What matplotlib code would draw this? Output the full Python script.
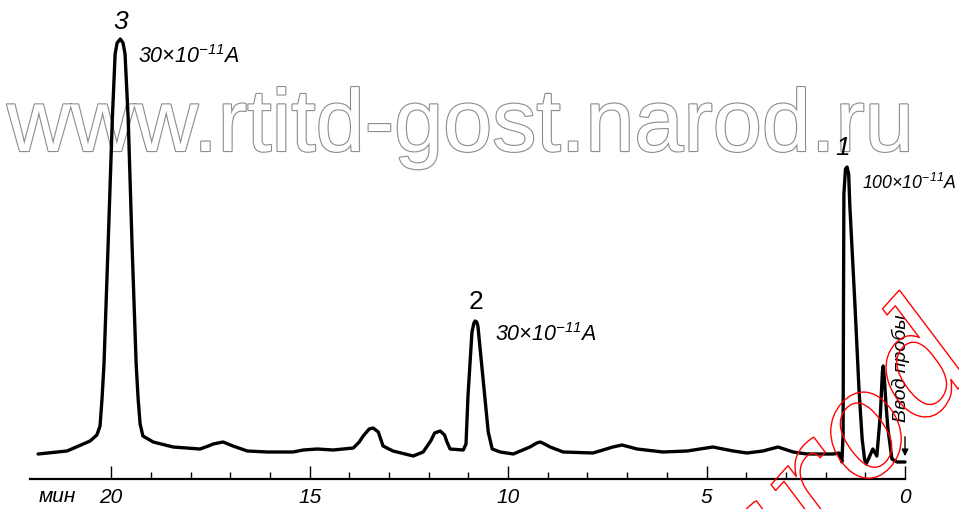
import matplotlib
matplotlib.use("Agg")
import matplotlib.pyplot as plt
from matplotlib import patheffects as pe
from matplotlib.ticker import FixedLocator

plt.rcParams["mathtext.fontset"] = "custom"
plt.rcParams["mathtext.rm"] = "Liberation Sans:italic"
plt.rcParams["mathtext.it"] = "Liberation Sans:italic"
plt.rcParams["mathtext.sf"] = "Liberation Sans:italic"

# ---- data (time in min, detector signal in arbitrary units) ----
time_min = [21.84, 21.11, 20.53, 20.36, 20.28, 20.23, 20.18, 20.08, 19.97, 19.90, 19.85,
            19.77, 19.70, 19.65, 19.57, 19.47, 19.37, 19.32, 19.27, 19.20, 18.94, 18.44,
            17.76, 17.55, 17.43, 17.18, 16.93, 16.57, 16.07, 15.42, 15.16, 14.81, 14.41,
            13.90, 13.75, 13.65, 13.50, 13.40, 13.27, 13.15, 12.90, 12.39, 12.14, 11.95,
            11.85, 11.71, 11.60, 11.54, 11.46, 11.13, 11.06, 11.01, 10.91, 10.86, 10.83,
            10.79, 10.76, 10.63, 10.50, 10.40, 10.20, 9.87, 9.45, 9.28, 9.19, 9.08, 8.94,
            8.61, 7.86, 7.36, 7.13, 6.75, 6.10, 5.49, 4.84, 4.33, 3.98, 3.58, 3.20, 2.82,
            2.47, 1.81, 1.66, 1.62, 1.59, 1.56, 1.55, 1.54, 1.50, 1.46, 1.42, 1.39, 1.26,
            1.16, 1.08, 1.02, 0.98, 0.90, 0.81, 0.71, 0.62, 0.57, 0.55, 0.52, 0.48, 0.43,
            0.33, 0.20, 0.05, 0.00]
signal = [0, 3, 13, 19, 28, 55, 90, 205, 335, 400, 411,
          415, 411, 400, 335, 205, 90, 55, 30, 18, 12, 7,
          5, 8, 10, 12, 8, 3, 2, 2, 4, 5, 4,
          6, 12, 18, 25, 26, 22, 8, 3, -2, 2, 13,
          21, 23, 19, 12, 5, 4, 10, 58, 122, 131, 133,
          132, 128, 75, 22, 5, 2, 0, 7, 11, 12, 10, 7,
          2, 1, 7, 9, 5, 2, 3, 7, 3, 1, 3, 7, 2,
          0, 0, 1, -4, -8, 20, 150, 260, 285, 287, 280, 248, 148,
          65, 15, -5, -10, -3, 5, -2, 40, 82, 88, 75, 50, 25,
          -5, -8, -8, -8]

major_ticks = [20, 15, 10, 5, 0]
major_labels = ["20", "15", "10", "5", "0"]
minor_ticks = [1, 2, 3, 4, 6, 7, 8, 9, 11, 12, 13, 14, 16, 17, 18, 19]

peak_numbers = ["1", "2", "3"]
peak_times = [1.56, 10.81, 19.77]
peak_label_levels = [307, 153, 433]
peak_italic = [True, False, True]
sens_labels = [r"100$\times$10$^{-11}$A", r"30$\times$10$^{-11}$A", r"30$\times$10$^{-11}$A"]
sens_times = [1.08, 10.33, 19.32]
sens_levels = [272, 120, 398]
sens_sizes = [12.8, 15.5, 15.5]

fig = plt.figure(figsize=(9.59, 5.10), dpi=100)
ax = fig.add_axes([0, 0, 1, 1])
ax.set_xlim(22.80, -1.36)
ax.set_ylim(-55, 455)

# watermark (gray outlined)
ax.text(7 / 959, (510 - 152) / 510, "www.rtitd-gost.narod.ru", transform=fig.transFigure,
        fontsize=63.5, family="Liberation Sans", color="white", ha="left", va="baseline",
        path_effects=[pe.withStroke(linewidth=1.6, foreground="#8c8c8c")], zorder=1)

ax.plot(time_min, signal, color="black", lw=2.4, solid_joinstyle="round",
        solid_capstyle="round", zorder=3)

for s in ["top", "right", "left"]:
    ax.spines[s].set_visible(False)
ax.spines["bottom"].set_position(("data", -25))
ax.spines["bottom"].set_bounds(0, 22.04)
ax.spines["bottom"].set_linewidth(1.6)
ax.set_yticks([])
ax.xaxis.set_major_locator(FixedLocator(major_ticks))
ax.set_xticklabels(major_labels)
ax.xaxis.set_minor_locator(FixedLocator(minor_ticks))
ax.tick_params(axis="x", which="major", direction="in", length=9.5, width=1.0, pad=6,
               labelsize=15)
ax.tick_params(axis="x", which="minor", direction="in", length=5, width=1.0)
for lbl in ax.get_xticklabels():
    lbl.set_fontstyle("italic")
    lbl.set_family("Liberation Sans")

ax.text(21.36, -42, "мин", fontsize=15, style="italic", family="Liberation Sans",
        ha="center", va="center")

for num, t, lev, it in zip(peak_numbers, peak_times, peak_label_levels, peak_italic):
    ax.text(t, lev, num, fontsize=19, style="italic" if it else "normal",
            family="Liberation Sans", ha="center", va="center", zorder=4)
for lab, t, lev, fs in zip(sens_labels, sens_times, sens_levels, sens_sizes):
    ax.text(t, lev, lab, fontsize=fs, style="italic", family="Liberation Sans",
            ha="left", va="center", zorder=4)

# sample injection mark
ax.annotate("", xy=(0, -5), xytext=(0, 20),
            arrowprops=dict(arrowstyle="-|>", lw=1.0, color="black", mutation_scale=10),
            zorder=4)
ax.text(0.10, 87, "Ввод пробы", rotation=90, fontsize=14, style="italic",
        family="Liberation Sans", ha="center", va="center", zorder=4)

# red watermark
ax.text(985 / 959, (510 - 360) / 510, "narod", transform=fig.transFigure, rotation=48,
        rotation_mode="anchor", ha="right", va="baseline", fontsize=104,
        family="DejaVu Serif", style="italic", color=(1, 1, 1, 0),
        path_effects=[pe.Stroke(linewidth=1.0, foreground="red")], zorder=5)

fig.savefig("out.png", dpi=100, facecolor="white")
